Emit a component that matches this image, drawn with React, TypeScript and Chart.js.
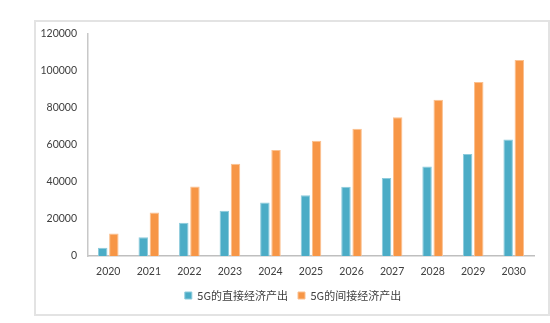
import React, { useEffect, useRef } from "react";
import { Chart, registerables } from "chart.js";

Chart.register(...registerables);

const years = ["2020", "2021", "2022", "2023", "2024", "2025", "2026", "2027", "2028", "2029", "2030"];
const directOutput = [4500, 10100, 18000, 24400, 28900, 32900, 37400, 42100, 48400, 55100, 63000];
const indirectOutput = [12100, 23500, 37600, 49800, 57300, 62300, 68800, 75000, 84400, 94100, 106000];
const seriesNames = ["5G的直接经济产出", "5G的间接经济产出"];
const yTicks = [0, 20000, 40000, 60000, 80000, 100000, 120000];

const legendShift = {
  id: "legendShift",
  afterLayout(chart: any) {
    const lg = chart.legend;
    if (lg) {
      lg.left += 9;
      lg.right += 9;
    }
  },
};

export default function App() {
  const ref = useRef<HTMLCanvasElement>(null);
  useEffect(() => {
    if (!ref.current) return;
    const chart = new Chart(ref.current, {
      type: "bar",
      data: {
        labels: years,
        datasets: [
          {
            label: seriesNames[0],
            data: directOutput,
            backgroundColor: "#4BACC6",
            borderColor: "#8ccbdc",
            borderWidth: 1,
            categoryPercentage: 0.55,
            barPercentage: 0.85,
          },
          {
            label: seriesNames[1],
            data: indirectOutput,
            backgroundColor: "#F79646",
            borderColor: "#fbc08f",
            borderWidth: 1,
            categoryPercentage: 0.55,
            barPercentage: 0.85,
          },
        ],
      },
      plugins: [legendShift],
      options: {
        responsive: false,
        animation: false,
        layout: { padding: { top: 34, left: 34, right: 16, bottom: 12 } },
        plugins: {
          tooltip: { enabled: false },
          legend: {
            position: "bottom",
            labels: {
              boxWidth: 7,
              boxHeight: 7,
              padding: 10,
              color: "#404040",
              font: { family: "'Noto Sans CJK SC', sans-serif", size: 11 },
            },
          },
        },
        scales: {
          x: {
            grid: { display: false, drawTicks: false },
            border: { display: true, color: "#bfbfbf", width: 1.5 },
            ticks: { padding: 9, color: "#404040", font: { family: "Lato", size: 10.5 } },
            afterFit: (s: any) => { s.height = 24; },
          },
          y: {
            min: 0,
            max: 120000,
            afterBuildTicks: (s: any) => { s.ticks = yTicks.map((v) => ({ value: v })); },
            grid: { display: false, drawTicks: false },
            border: { display: true, color: "#c8c8c8", width: 1.5 },
            ticks: {
              padding: 11,
              color: "#404040",
              font: { family: "Lato", size: 10.5 },
              callback: (v: any) => String(v),
            },
            afterFit: (s: any) => { s.width = 54; },
          },
        },
      },
    });
    return () => chart.destroy();
  }, []);
  return (
    <div>
      <div
        style={{
          position: "absolute",
          left: 34,
          top: 20,
          width: 512,
          height: 292,
          border: "2px solid #e3e3e3",
          boxSizing: "content-box",
        }}
      />
      <canvas
        ref={ref}
        width={550}
        height={323}
        style={{ position: "absolute", left: 0, top: 0, display: "block" }}
      />
    </div>
  );
}
